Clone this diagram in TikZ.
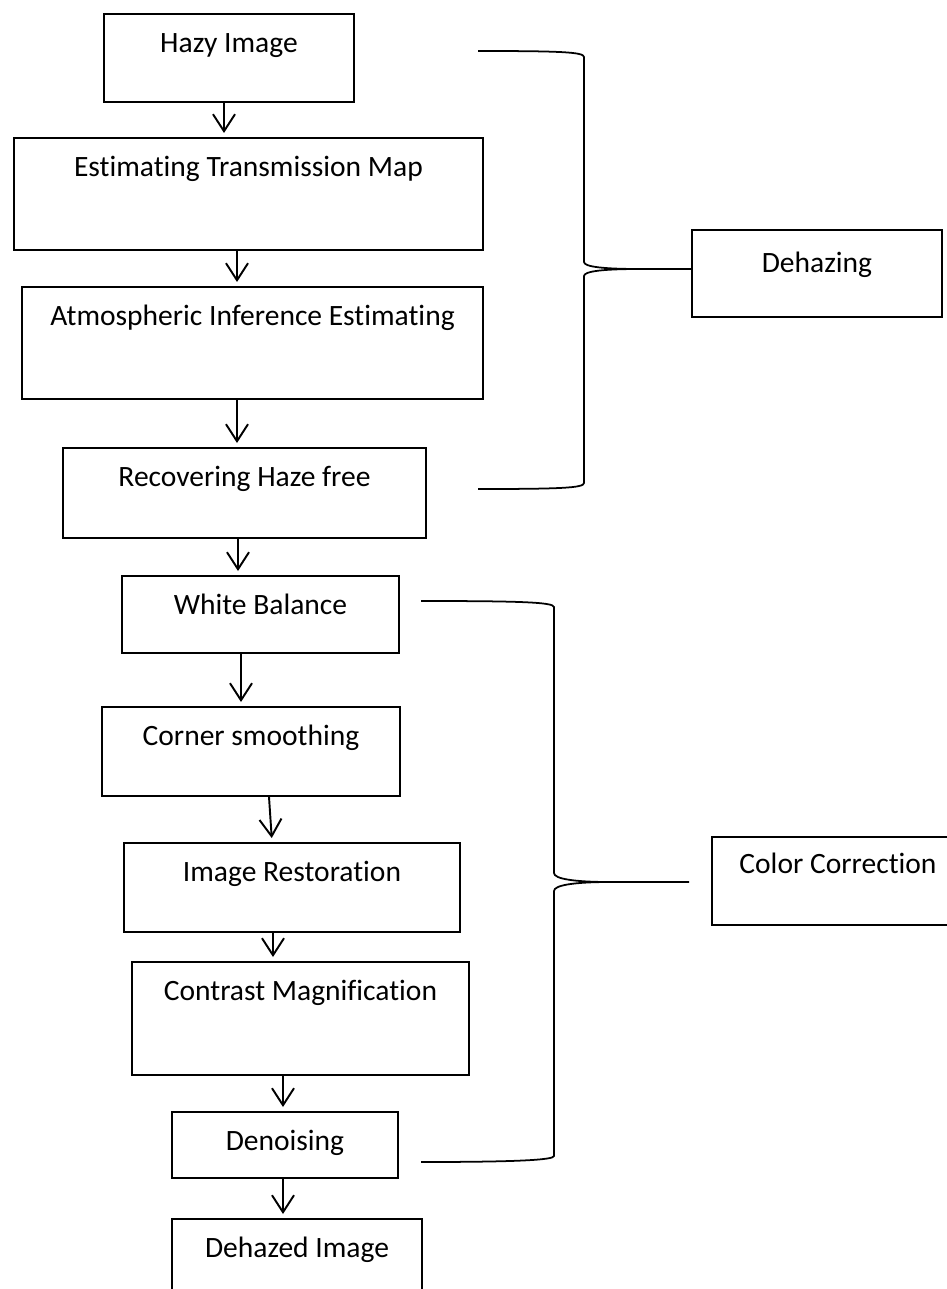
\documentclass[tikz,border=0pt]{standalone}
\usepackage{fontspec}
\setmainfont{Carlito}[Ligatures=NoCommon]
\usetikzlibrary{positioning,arrows.meta,calc}

\begin{document}
\begin{tikzpicture}[
    x=0.2mm, y=-0.2mm,
    stage/.style={draw, line width=1.1pt, inner sep=0pt, anchor=north west,
                  text height=7.8mm, font=\fontsize{16.8}{19}\selectfont},
    flow/.style={-{Straight Barb[length=3.4mm,width=4.4mm]}, line width=1.1pt, shorten >=0.8mm},
    brace/.style={line width=1pt},
  ]
  \useasboundingbox (0,0) rectangle (947,1289);
  \clip (0,0) rectangle (947,1289);

  % main chain, text sits near the top of each box
  \node[stage, minimum width=50mm,   text depth=9.8mm]  (hazy)     at (103,13)   {Hazy Image};
  \node[stage, minimum width=93.8mm, text depth=14.6mm] (trans)    at (13,137)   {Estimating Transmission Map};
  \node[stage, minimum width=92.2mm, text depth=14.6mm] (atmo)     at (21,286)   {Atmospheric Inference Estimating};
  \node[stage, minimum width=72.6mm, text depth=10.2mm] (recov)    at (62,447)   {Recovering Haze free};
  \node[stage, minimum width=55.4mm, text depth=7.6mm]  (white)    at (121,575)  {White Balance};
  \node[stage, minimum width=59.6mm, text depth=10mm]   (corner)   at (101,706)  {Corner smoothing};
  \node[stage, minimum width=67.2mm, text depth=10mm]   (restore)  at (123,842)  {Image Restoration};
  \node[stage, minimum width=67.4mm, text depth=14.8mm] (contrast) at (131,961)  {Contrast Magnification};
  \node[stage, minimum width=45.2mm, text depth=5.4mm]  (denoise)  at (171,1111) {Denoising};
  \node[stage, minimum width=50mm,   text depth=12.2mm] (dehazed)  at (171,1218) {Dehazed Image};

  % the two groups on the right
  \node[stage, minimum width=50mm,   text height=8.6mm, text depth=8.8mm]  (dehazing)  at (691,229) {Dehazing};
  \node[stage, minimum width=50.4mm, text height=7.4mm, text depth=10.2mm] (colorcorr) at (711,836) {Color Correction};

  \draw[flow] (hazy.south -| 224,0)     -- (trans.north -| 224,0);
  \draw[flow] (trans.south -| 237,0)    -- (atmo.north -| 237,0);
  \draw[flow] (atmo.south -| 237,0)     -- (recov.north -| 237,0);
  \draw[flow] (recov.south -| 238,0)    -- (white.north -| 238,0);
  \draw[flow] (white.south -| 241,0)    -- (corner.north -| 241,0);
  \draw[flow] (corner.south -| 269,0)   -- (restore.north -| 272,0);
  \draw[flow] (restore.south -| 273,0)  -- (contrast.north -| 273,0);
  \draw[flow] (contrast.south -| 283,0) -- (denoise.north -| 283,0);
  \draw[flow] (denoise.south -| 283,0)  -- (dehazed.north -| 283,0);

  % brace for dehazing
  \draw[brace] (478,51) .. controls (560,51) and (584,52) .. (584,57) -- (584,262)
    .. controls (584,267) and (605,269) .. (640,269) -- (dehazing.west |- 0,269);
  \draw[brace] (640,269) .. controls (605,269) and (584,271) .. (584,276) -- (584,483)
    .. controls (584,488) and (560,489) .. (478,489);

  % brace for colour correction
  \draw[brace] (421,601) .. controls (515,601) and (554,602) .. (554,607) -- (554,873)
    .. controls (554,879) and (575,882) .. (610,882) -- ($(colorcorr.west |- 0,882)+(-22,0)$);
  \draw[brace] (610,882) .. controls (575,882) and (554,885) .. (554,891) -- (554,1156)
    .. controls (554,1160) and (515,1162) .. (421,1162);
\end{tikzpicture}
\end{document}
